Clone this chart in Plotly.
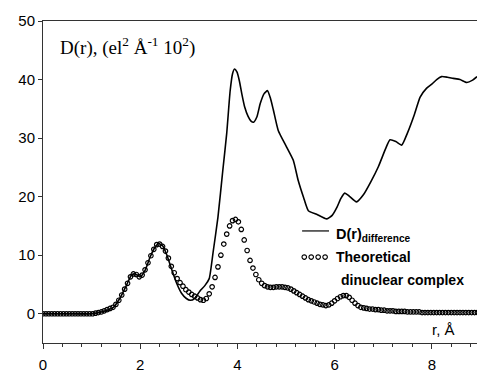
import plotly.graph_objects as go

# Difference curve D(r)_difference
r_diff = [0.0, 0.5, 1.0, 1.2, 1.45, 1.6, 1.72, 1.82, 1.9, 2.0, 2.1, 2.2, 2.3, 2.38, 2.46,
          2.55, 2.65, 2.75, 2.85, 2.95, 3.03, 3.12, 3.23, 3.33, 3.42, 3.5, 3.6, 3.7,
          3.78, 3.85, 3.9, 3.94, 3.99, 4.04, 4.09, 4.15, 4.22, 4.28, 4.33, 4.4, 4.47,
          4.55, 4.62, 4.68, 4.74, 4.84, 5.01, 5.15, 5.25, 5.36, 5.46, 5.63, 5.84, 5.95,
          6.05, 6.13, 6.21, 6.3, 6.45, 6.6, 6.75, 6.9, 7.05, 7.14, 7.26, 7.38, 7.5, 7.64,
          7.76, 7.89, 8.0, 8.1, 8.2, 8.32, 8.44, 8.58, 8.72, 8.84, 8.93]
d_diff = [0.0, 0.0, 0.0, 0.3, 1.1, 2.9, 4.9, 6.6, 6.8, 6.3, 7.4, 9.6, 11.3, 12.0, 11.6,
          10.0, 7.5, 5.2, 3.5, 2.6, 2.3, 2.6, 3.9, 4.8, 6.0, 10.5, 16.5, 24.5,
          30.8, 38.0, 41.0, 41.8, 41.3, 39.8, 37.6, 35.3, 33.7, 32.9, 32.7, 33.6, 35.9,
          37.6, 38.1, 36.8, 34.8, 31.3, 28.5, 26.2, 22.8, 19.9, 17.6, 17.0, 16.2, 16.8,
          18.2, 19.7, 20.6, 20.1, 19.1, 20.4, 22.6, 25.1, 28.2, 29.7, 29.4, 28.8, 30.9,
          34.0, 37.0, 38.5, 39.2, 40.0, 40.5, 40.4, 40.2, 40.0, 39.5, 39.9, 40.5]

# Theoretical dinuclear complex
r_theo = [0.00, 0.06, 0.12, 0.18, 0.24, 0.30, 0.36, 0.42, 0.48, 0.54,
          0.60, 0.66, 0.72, 0.78, 0.84, 0.90, 0.96, 1.02, 1.08, 1.14,
          1.20, 1.26, 1.32, 1.38, 1.44, 1.50, 1.56, 1.62, 1.68, 1.74,
          1.80, 1.86, 1.92, 1.98, 2.04, 2.10, 2.16, 2.22, 2.28, 2.34,
          2.40, 2.46, 2.52, 2.58, 2.64, 2.70, 2.76, 2.82, 2.88, 2.94,
          3.00, 3.06, 3.12, 3.18, 3.24, 3.30, 3.36, 3.42, 3.48, 3.54,
          3.60, 3.66, 3.72, 3.78, 3.84, 3.90, 3.96, 4.02, 4.08, 4.14,
          4.20, 4.26, 4.32, 4.38, 4.44, 4.50, 4.56, 4.62, 4.68, 4.74,
          4.80, 4.86, 4.92, 4.98, 5.04, 5.10, 5.16, 5.22, 5.28, 5.34,
          5.40, 5.46, 5.52, 5.58, 5.64, 5.70, 5.76, 5.82, 5.88, 5.94,
          6.00, 6.06, 6.12, 6.18, 6.24, 6.30, 6.36, 6.42, 6.48, 6.54,
          6.60, 6.66, 6.72, 6.78, 6.84, 6.90, 6.96, 7.02, 7.08, 7.14,
          7.20, 7.26, 7.32, 7.38, 7.44, 7.50, 7.56, 7.62, 7.68, 7.74,
          7.80, 7.86, 7.92, 7.98, 8.04, 8.10, 8.16, 8.22, 8.28, 8.34,
          8.40, 8.46, 8.52, 8.58, 8.64, 8.70, 8.76, 8.82, 8.88, 8.94]
d_theo = [0, 0, 0, 0, 0, 0, 0, 0, 0, 0,
          0, 0, 0, 0, 0, 0, 0, 0, 0.1, 0.2,
          0.3, 0.5, 0.7, 0.9, 1.1, 1.6, 2.3, 3.2, 4.2, 5.2,
          6.3, 6.8, 6.7, 6.3, 6.6, 7.5, 8.7, 9.9, 11.0, 11.8,
          11.9, 11.5, 10.7, 9.5, 8.1, 7.0, 6.0, 5.3, 4.7, 4.1,
          3.7, 3.3, 3.0, 2.7, 2.4, 2.3, 2.6, 3.4, 4.6, 6.2,
          8.0, 10.0, 11.9, 13.6, 15.0, 15.9, 16.1, 15.7, 14.4, 12.6,
          10.8, 9.1, 7.8, 6.7, 5.8, 5.2, 4.8, 4.6, 4.5, 4.5,
          4.6, 4.6, 4.6, 4.5, 4.4, 4.2, 3.9, 3.6, 3.3, 3.0,
          2.7, 2.4, 2.2, 2.0, 1.8, 1.6, 1.5, 1.4, 1.5, 1.8,
          2.2, 2.6, 2.9, 3.1, 3.1, 2.8, 2.3, 1.8, 1.4, 1.1,
          1.0, 0.9, 0.8, 0.8, 0.7, 0.7, 0.6, 0.6, 0.5, 0.5,
          0.5, 0.4, 0.4, 0.4, 0.4, 0.3, 0.3, 0.3, 0.3, 0.3,
          0.2, 0.2, 0.2, 0.2, 0.2, 0.2, 0.2, 0.2, 0.2, 0.2,
          0.2, 0.2, 0.2, 0.2, 0.2, 0.2, 0.2, 0.2, 0.2, 0.2]

x_ticks = [0, 2, 4, 6, 8]
y_ticks = [0, 10, 20, 30, 40, 50]

SANS = "Arial, Liberation Sans, sans-serif"
SERIF = "Times New Roman, Liberation Serif, serif"

fig = go.Figure()
fig.add_trace(go.Scatter(x=r_diff, y=d_diff, mode="lines",
                         line=dict(color="black", width=1.6, shape="spline", smoothing=0.5),
                         showlegend=False, hoverinfo="skip"))
fig.add_trace(go.Scatter(x=r_theo, y=d_theo, mode="markers",
                         marker=dict(symbol="circle-open", size=4.5, color="black",
                                     line=dict(width=1.2, color="black")),
                         showlegend=False, hoverinfo="skip"))

# legend sample markers on an overlay axis (0..1 = plot area)
fig.add_trace(go.Scatter(x=[0.602, 0.618, 0.634, 0.650], y=[0.267] * 4, mode="markers",
                         xaxis="x2", yaxis="y2",
                         marker=dict(symbol="circle-open", size=4.5, color="black",
                                     line=dict(width=1.2, color="black")),
                         showlegend=False, hoverinfo="skip"))

fig.add_shape(type="line", xref="paper", yref="paper", x0=0.597, x1=0.659,
              y0=0.348, y1=0.348, line=dict(color="black", width=1.2))

annots = [
    dict(text="D(r), (el<sup>2</sup> Å<sup>-1</sup> 10<sup>2</sup>)", x=0.035, y=0.922,
         font=dict(family=SERIF, size=19, color="black")),
    dict(text="<b>D(r)<sub>difference</sub></b>", x=0.671, y=0.335,
         font=dict(family=SANS, size=14.5, color="black")),
    dict(text="<b>Theoretical</b>", x=0.671, y=0.267,
         font=dict(family=SANS, size=14, color="black")),
    dict(text="<b>dinuclear complex</b>", x=0.681, y=0.196,
         font=dict(family=SANS, size=14, color="black")),
    dict(text="r, Å", x=0.892, y=0.041,
         font=dict(family=SANS, size=15, color="black")),
]
for a in annots:
    fig.add_annotation(xref="paper", yref="paper", xanchor="left", yanchor="middle",
                       showarrow=False, **a)

fig.update_layout(
    width=477, height=373,
    margin=dict(l=43, r=0, t=21, b=30, autoexpand=False),
    paper_bgcolor="white", plot_bgcolor="white",
    font=dict(family=SANS, size=15, color="black"),
    xaxis=dict(range=[0, 8.93], tickvals=x_ticks, ticks="outside", ticklen=5,
               tickcolor="#333", showgrid=False, zeroline=False,
               showline=True, linecolor="#333", linewidth=1, mirror=True,
               ticklabelstandoff=3,
               minor=dict(dtick=0.4, tick0=0, ticks="outside", ticklen=3, tickcolor="#333"),
               tickfont=dict(size=15)),
    yaxis=dict(range=[-5, 50], tickvals=y_ticks, ticks="outside", ticklen=4,
               tickcolor="#333", showgrid=False, zeroline=False,
               showline=True, linecolor="#333", linewidth=1,
               tickfont=dict(size=15)),
    xaxis2=dict(range=[0, 1], overlaying="x", visible=False),
    yaxis2=dict(range=[0, 1], overlaying="y", visible=False),
)

fig.write_html("out.html")
